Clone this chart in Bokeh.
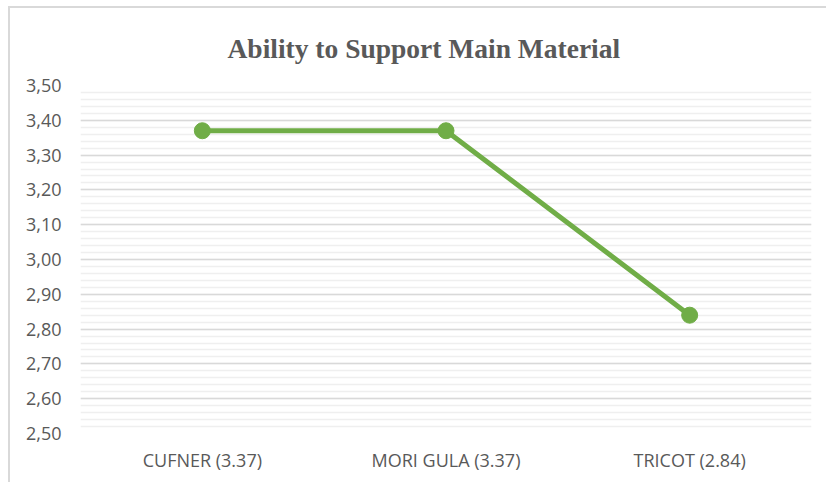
from bokeh.plotting import figure
from bokeh.models import SingleIntervalTicker, CustomJSTickFormatter, Range1d
from bokeh.embed import file_html
from bokeh.resources import INLINE

categories = ["CUFNER (3.37)", "MORI GULA (3.37)", "TRICOT (2.84)"]
values = [3.37, 3.37, 2.84]
y_min, y_max = 2.5, 3.5
title_text = "Ability to Support Main Material"

p = figure(x_range=categories, y_range=Range1d(y_min, y_max), title=title_text,
           width=818, height=476, output_backend="svg", toolbar_location=None,
           min_border_left=70, min_border_right=17, min_border_top=76, min_border_bottom=51)
p.styles = {"border-left": "2px solid #d9d9d9", "border-top": "2px solid #d9d9d9",
            "margin-left": "8px", "margin-top": "6px"}
p.outline_line_color = None
p.background_fill_color = "white"
p.border_fill_color = "white"

p.title.text_font = "Liberation Serif"
p.title.text_font_size = "27.5px"
p.title.text_font_style = "bold"
p.title.text_color = "#595959"
p.title.align = "left"
p.title.offset = 147
p.title.standoff = 44
p.title.text_line_height = 1.0

p.line(categories, values, line_color="#70AD47", line_width=5)
p.scatter(categories, values, size=16, fill_color="#70AD47", line_color="#70AD47")

ticker = SingleIntervalTicker(interval=0.1, num_minor_ticks=5)
p.yaxis.ticker = ticker
p.yaxis.formatter = CustomJSTickFormatter(code="return tick.toFixed(2).replace('.', ',');")
for ax in (p.xaxis, p.yaxis):
    ax.axis_line_color = None
    ax.major_tick_line_color = None
    ax.minor_tick_line_color = None
    ax.major_label_text_font = "Open Sans"
    ax.major_label_text_font_size = "18px"
    ax.major_label_text_color = "#595959"
p.yaxis.major_label_standoff = 13
p.xaxis.major_label_standoff = 8

p.xgrid.grid_line_color = None
p.ygrid.ticker = ticker
p.ygrid.grid_line_color = "#d9d9d9"
p.ygrid.grid_line_width = 1.5
p.ygrid.minor_grid_line_color = "#efefef"
p.ygrid.minor_grid_line_width = 1.5

open("out.html", "w").write(file_html(p, INLINE))
